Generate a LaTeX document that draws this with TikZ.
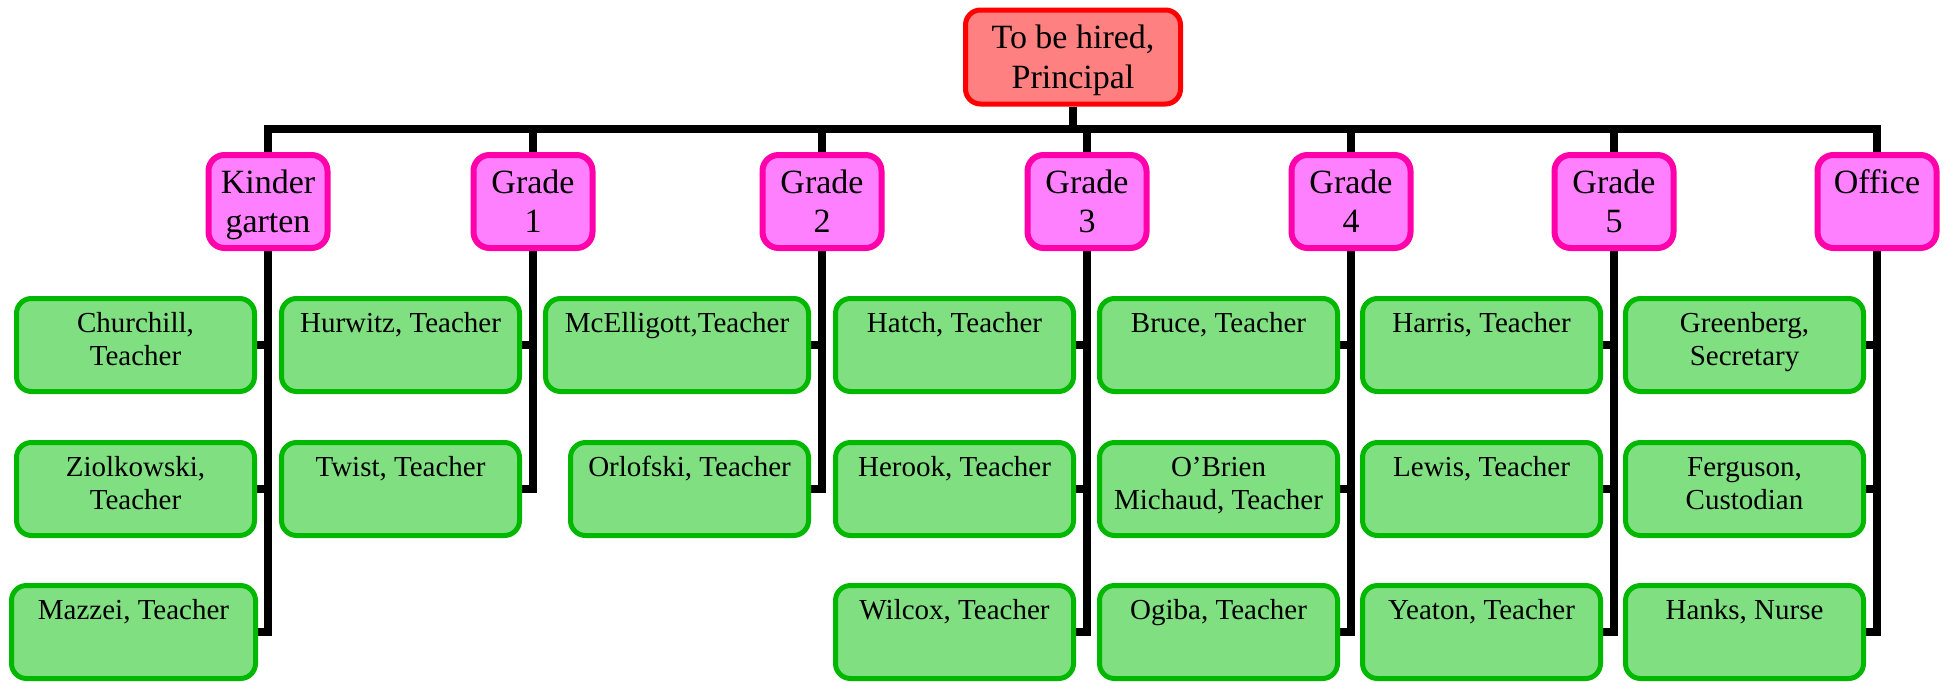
\documentclass[tikz,border=0pt]{standalone}
\usepackage{fontspec}
\setmainfont{Liberation Serif}
\usetikzlibrary{backgrounds}
\definecolor{pfill}{HTML}{FF8080}
\definecolor{pline}{HTML}{FF0000}
\definecolor{gfill}{HTML}{FF80FF}
\definecolor{gline}{HTML}{FF00AA}
\definecolor{sfill}{HTML}{80DF80}
\definecolor{sline}{HTML}{00B800}
\newcommand{\mlines}[1]{\begin{tabular}[t]{@{}c@{}}#1\end{tabular}}
\begin{document}
\begin{tikzpicture}[x=0.5pt,y=-0.5pt,
  boss/.style={draw=pline, fill=pfill, line width=2.5pt, rounded corners=7.5pt, inner sep=0pt,
    minimum width=107.5pt, text height=19pt, text depth=28pt, font=\fontsize{17}{20}\selectfont},
  grade/.style={draw=gline, fill=gfill, line width=3pt, rounded corners=8pt, inner sep=0pt,
    minimum width=59.5pt, text height=19pt, text depth=27.5pt, font=\fontsize{17}{19.5}\selectfont},
  staff/.style={draw=sline, fill=sfill, line width=2.5pt, rounded corners=7.5pt, inner sep=0pt,
    minimum width=119pt, text height=16.75pt, text depth=29.75pt, font=\fontsize{14.5}{16.5}\selectfont},
  conn/.style={line width=4pt, black}]
\useasboundingbox (0,0) rectangle (1948,681);

\node[boss] (P) at (1073,57) {\mlines{To be hired,\\Principal}};
\coordinate (bus) at (1073,129);

\node[grade] (K)  at (268,201.5)  {\mlines{Kinder\\garten}};
\node[grade] (G1) at (533,201.5)  {\mlines{Grade\\1}};
\node[grade] (G2) at (822,201.5)  {\mlines{Grade\\2}};
\node[grade] (G3) at (1087,201.5) {\mlines{Grade\\3}};
\node[grade] (G4) at (1351,201.5) {\mlines{Grade\\4}};
\node[grade] (G5) at (1614,201.5) {\mlines{Grade\\5}};
\node[grade] (O)  at (1877,201.5) {Office};

\node[staff] (k1) at (135.5,345) {\mlines{Churchill,\\Teacher}};
\node[staff] (k2) at (135.5,489) {\mlines{Ziolkowski,\\Teacher}};
\node[staff, minimum width=122pt] (k3) at (133.5,632) {Mazzei, Teacher};

\node[staff] (a1) at (400.5,345) {Hurwitz, Teacher};
\node[staff] (a2) at (400.5,489) {Twist, Teacher};

\node[staff, minimum width=131.5pt] (b1) at (677,345) {McElligott,Teacher};
\node[staff] (b2) at (689.5,489) {Orlofski, Teacher};

\node[staff] (c1) at (954.5,345) {Hatch, Teacher};
\node[staff] (c2) at (954.5,489) {Herook, Teacher};
\node[staff] (c3) at (954.5,632) {Wilcox, Teacher};

\node[staff] (d1) at (1218.5,345) {Bruce, Teacher};
\node[staff] (d2) at (1218.5,489) {\mlines{O’Brien\\Michaud, Teacher}};
\node[staff] (d3) at (1218.5,632) {Ogiba, Teacher};

\node[staff] (e1) at (1481.5,345) {Harris, Teacher};
\node[staff] (e2) at (1481.5,489) {Lewis, Teacher};
\node[staff] (e3) at (1481.5,632) {Yeaton, Teacher};

\node[staff] (f1) at (1744.5,345) {\mlines{Greenberg,\\Secretary}};
\node[staff] (f2) at (1744.5,489) {\mlines{Ferguson,\\Custodian}};
\node[staff] (f3) at (1744.5,632) {Hanks, Nurse};

\begin{scope}[on background layer]
  \fill[white] (0,0) rectangle (1948,681);
  \draw[conn] (P.south) -- (bus);
  \foreach \g in {K,G1,G2,G3,G4,G5,O} \draw[conn] (bus) -| (\g.north);
  \foreach \g/\c in {K/k1,K/k2,K/k3,G1/a1,G1/a2,G2/b1,G2/b2,G3/c1,G3/c2,G3/c3,
                     G4/d1,G4/d2,G4/d3,G5/e1,G5/e2,G5/e3,O/f1,O/f2,O/f3}
    \draw[conn] (\g.south) |- (\c.east);
\end{scope}
\end{tikzpicture}
\end{document}
